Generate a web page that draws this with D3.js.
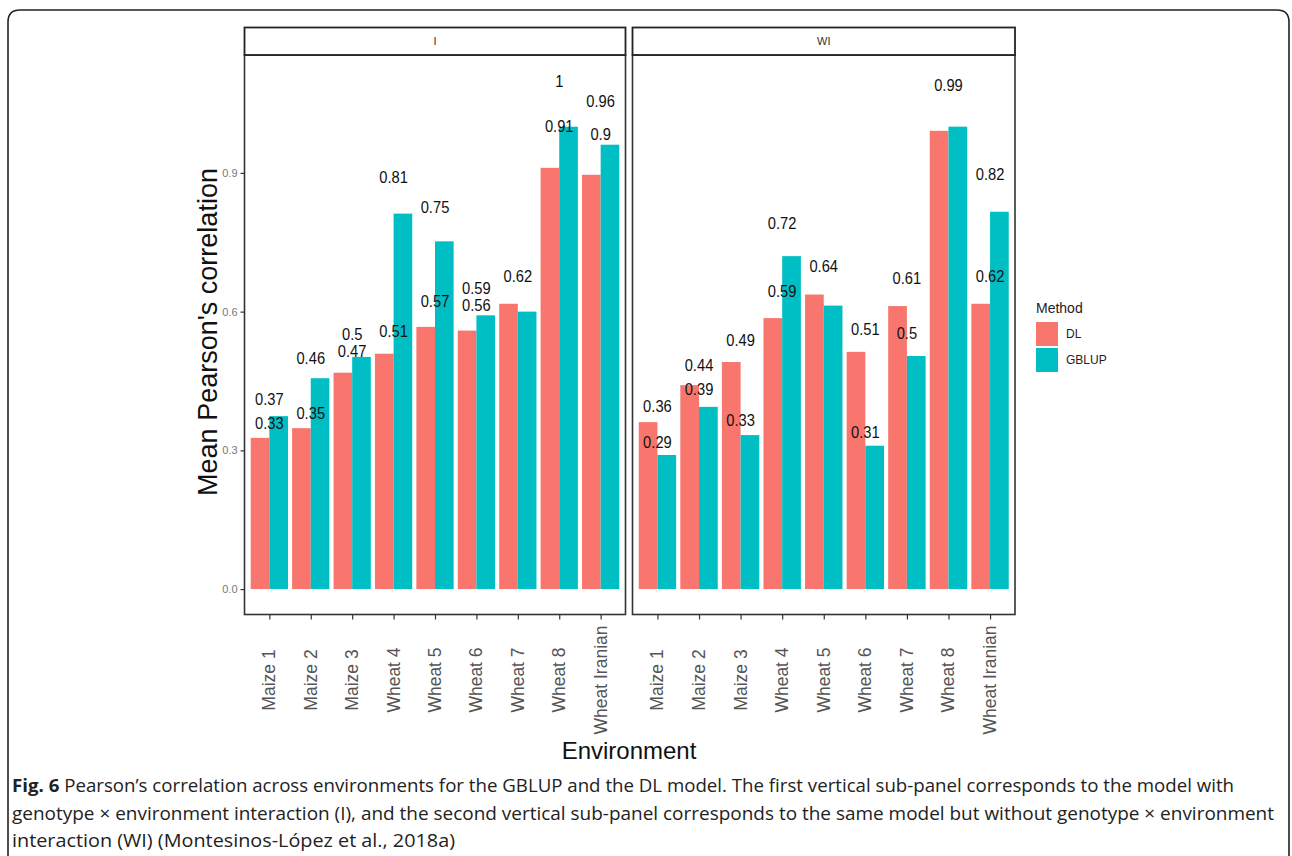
<!DOCTYPE html>
<html>
<head>
<meta charset="utf-8">
<script src="https://cdn.jsdelivr.net/npm/d3@7"></script>
<style>
  html, body { margin: 0; padding: 0; background: #fff; }
  svg { display: block; }
</style>
</head>
<body>
<svg id="chart" width="1292" height="856"></svg>
<script>
// ---------------- DATA ----------------
const categories = ["Maize 1", "Maize 2", "Maize 3", "Wheat 4", "Wheat 5", "Wheat 6", "Wheat 7", "Wheat 8", "Wheat Iranian"];
const panels = ["I", "WI"];
const methods = ["DL", "GBLUP"];
const dlI     = [0.327, 0.348, 0.468, 0.509, 0.567, 0.559, 0.617, 0.911, 0.896];
const gblupI  = [0.374, 0.456, 0.502, 0.812, 0.752, 0.592, 0.600, 1.000, 0.961];
const dlWI    = [0.361, 0.441, 0.491, 0.586, 0.637, 0.513, 0.612, 0.991, 0.617];
const gblupWI = [0.290, 0.394, 0.333, 0.720, 0.613, 0.310, 0.504, 1.000, 0.816];
const yTicks = [0.0, 0.3, 0.6, 0.9];
const yTickLabels = ["0.0", "0.3", "0.6", "0.9"];
const yTitle = "Mean Pearson's correlation";
const xTitle = "Environment";
const legendTitle = "Method";
const captionBold = "Fig. 6";
const captionLines = [
  " Pearson\u2019s correlation across environments for the GBLUP and the DL model. The first vertical sub-panel corresponds to the model with",
  "genotype \u00d7 environment interaction (I), and the second vertical sub-panel corresponds to the same model but without genotype \u00d7 environment",
  "interaction (WI) (Montesinos-L\u00f3pez et al., 2018a)"
];

const seriesByPanel = { I: [dlI, gblupI], WI: [dlWI, gblupWI] };
const colors = { DL: "#F8766D", GBLUP: "#00BFC4" };

// ---------------- LAYOUT ----------------
const svg = d3.select("#chart");
const font = "'Liberation Sans', Arial, sans-serif";
const panelX = { I: [244.5, 625.5], WI: [632.5, 1015] };
const stripTop = 27.5, stripBottom = 55, panelBottom = 614.5;

// outer frame
const fr = { l: 8, r: 1289, t: 10, rad: 12 };
svg.append("path")
  .attr("d", `M${fr.l},860 L${fr.l},${fr.t + fr.rad} Q${fr.l},${fr.t} ${fr.l + fr.rad},${fr.t} L${fr.r - fr.rad},${fr.t} Q${fr.r},${fr.t} ${fr.r},${fr.t + fr.rad} L${fr.r},860`)
  .attr("fill", "none").attr("stroke", "#222").attr("stroke-width", 1.6);

// y scale (shared): data range 0..1.1 (labels at value*1.1), 5% expansion
const yMaxData = 1.1;
const y = d3.scaleLinear()
  .domain([-0.05 * yMaxData, yMaxData * 1.05])
  .range([panelBottom, stripBottom]);

panels.forEach((p, pi) => {
  const [x0, x1] = panelX[p];
  const x = d3.scalePoint().domain(categories).range([x0, x1]).padding(0.6);
  const step = x.step();
  const barW = step * 0.9 / 2;
  const g = svg.append("g");

  // bars
  const series = seriesByPanel[p];
  methods.forEach((m, mi) => {
    g.selectAll(null).data(categories).enter().append("rect")
      .attr("x", c => x(c) - step * 0.45 + mi * barW)
      .attr("y", (c, i) => y(series[mi][i]))
      .attr("width", barW)
      .attr("height", (c, i) => y(0) - y(series[mi][i]))
      .attr("fill", colors[m]);
  });

  // labels with overlap check (DL first, then GBLUP)
  const placed = [];
  const minGap = 14;
  const labs = [];
  methods.forEach((m, mi) => {
    categories.forEach((c, i) => labs.push({ c, v: series[mi][i] }));
  });
  labs.forEach(d => {
    const ly = y(d.v * 1.1);
    if (placed.some(q => q.c === d.c && Math.abs(q.ly - ly) < minGap)) return;
    placed.push({ c: d.c, ly });
    g.append("text")
      .attr("x", x(d.c)).attr("y", ly)
      .attr("text-anchor", "middle").attr("dominant-baseline", "central")
      .attr("font-family", font).attr("font-size", 16).attr("fill", "#111")
      .attr("transform", `translate(${x(d.c)},${ly}) scale(0.92,1.08) translate(${-x(d.c)},${-ly})`)
      .text(String(+d.v.toFixed(2)));
  });

  // panel border
  g.append("rect").attr("x", x0).attr("y", stripBottom).attr("width", x1 - x0).attr("height", panelBottom - stripBottom)
    .attr("fill", "none").attr("stroke", "#333").attr("stroke-width", 1.6);
  // strip
  g.append("rect").attr("x", x0).attr("y", stripTop).attr("width", x1 - x0).attr("height", stripBottom - stripTop)
    .attr("fill", "#fff").attr("stroke", "#222").attr("stroke-width", 1.8);
  g.append("text").attr("x", (x0 + x1) / 2).attr("y", (stripTop + stripBottom) / 2)
    .attr("text-anchor", "middle").attr("dominant-baseline", "central")
    .attr("font-family", font).attr("font-size", 11).attr("fill", "#333")
    .text(p);

  // x axis
  const xAxis = d3.axisBottom(x).tickSize(5).tickPadding(0).tickFormat("");
  const ax = g.append("g").attr("transform", `translate(0,${panelBottom})`).call(xAxis);
  ax.select(".domain").remove();
  ax.selectAll(".tick line").attr("stroke", "#333").attr("stroke-width", 1.2);
  categories.forEach(c => {
    g.append("text")
      .attr("transform", `translate(${x(c) + 6},680) rotate(-90)`)
      .attr("text-anchor", "middle")
      .attr("font-family", font).attr("font-size", 17.5).attr("fill", "#555")
      .text(c);
  });

  // y axis on first panel
  if (pi === 0) {
    const yAxis = d3.axisLeft(y).tickValues(yTicks).tickSize(4).tickPadding(3)
      .tickFormat((d, i) => yTickLabels[i]);
    const ay = g.append("g").attr("transform", `translate(${x0},0)`).call(yAxis);
    ay.select(".domain").remove();
    ay.selectAll(".tick line").attr("stroke", "#333").attr("stroke-width", 1.2);
    ay.selectAll(".tick text").attr("font-family", font).attr("font-size", 11).attr("fill", "#777");
  }
});

// axis titles
svg.append("text")
  .attr("transform", `translate(217,332) rotate(-90)`)
  .attr("text-anchor", "middle")
  .attr("font-family", font).attr("font-size", 27).attr("fill", "#111")
  .text(yTitle);
svg.append("text")
  .attr("x", 629).attr("y", 759)
  .attr("text-anchor", "middle")
  .attr("font-family", font).attr("font-size", 24).attr("fill", "#111")
  .text(xTitle);

// legend
const lg = svg.append("g").attr("transform", "translate(1036,300)");
lg.append("text").attr("x", 0).attr("y", 13)
  .attr("font-family", font).attr("font-size", 14).attr("fill", "#222").text(legendTitle);
methods.forEach((m, i) => {
  lg.append("rect").attr("x", 0).attr("y", 22 + i * 26).attr("width", 22).attr("height", 24).attr("fill", colors[m]);
  lg.append("text").attr("x", 30).attr("y", 34 + i * 26).attr("dominant-baseline", "central")
    .attr("font-family", font).attr("font-size", 12).attr("fill", "#222").text(m);
});

// caption
const capFont = "'Liberation Sans Narrow', 'Open Sans', 'Noto Sans', sans-serif";
const capY = [792, 820, 847];
const capLen = [1222, 1262, 443];
captionLines.forEach((line, i) => {
  const t = svg.append("text")
    .attr("x", 12).attr("y", capY[i])
    .attr("font-family", capFont).attr("font-size", 18).attr("fill", "#222")
    .attr("textLength", capLen[i]).attr("lengthAdjust", "spacingAndGlyphs");
  if (i === 0) t.append("tspan").attr("font-weight", "bold").text(captionBold);
  t.append("tspan").text(line);
});
</script>
</body>
</html>
